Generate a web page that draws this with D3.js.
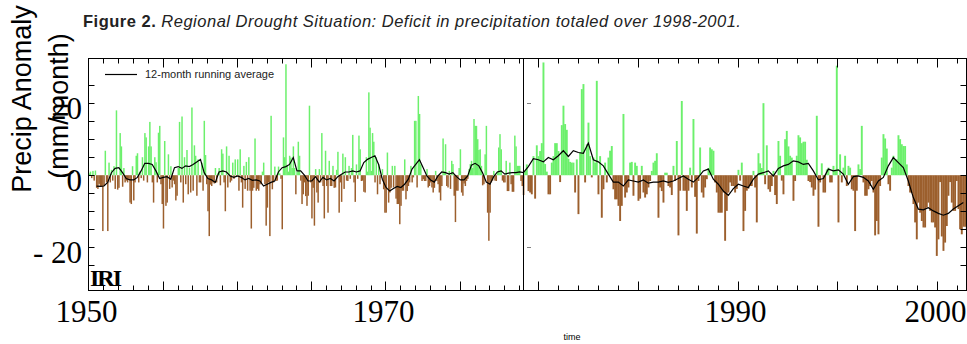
<!DOCTYPE html>
<html>
<head>
<meta charset="utf-8">
<script src="https://cdn.jsdelivr.net/npm/d3@7"></script>
<style>
  html, body { margin: 0; padding: 0; background: #fff; }
  svg { display: block; }
</style>
</head>
<body>
<svg id="chart" width="967" height="344"></svg>
<script>
// monthly precipitation anomaly (mm/month), Jan 1950 onwards
const startYear = 1950;
const anomaly = [
  0.5, 1.0, -0.8, 1.2, -1.5, 1.3, -3.5, -3.8, -2.4, -3.0, -3.2, -15.5,      // 1950
  -3.0, 6.8, -2.0, -15.5, 3.5, -2.0, 1.5, -1.5, 2.5, -3.8, 18.0, -4.0,      // 1951
  -3.5, 11.7, 8.0, -3.2, 2.0, -2.0, -1.5, -2.0, -1.0, -7.6, -8.0, 2.5,      // 1952
  -7.0, -2.0, 5.4, 6.1, -2.0, 1.0, -0.8, 5.0, -1.5, 11.7, 10.5, -2.0,       // 1953
  8.0, 14.8, 8.0, -2.0, -7.6, 5.0, 3.6, -2.0, 11.8, 13.7, -2.5, -8.0,       // 1954
  -14.8, 9.5, -8.5, -7.6, 5.8, -3.8, 2.5, -3.4, -1.5, -2.5, -7.0, -5.7,     // 1955
  2.0, 14.8, -2.0, 16.3, -7.6, 5.0, -2.5, 7.0, -5.3, 2.0, -4.8, 18.8,       // 1956
  -4.3, 8.3, 5.4, -5.7, 4.4, -2.0, -2.0, 3.5, -4.3, 15.1, 5.6, -2.5,        // 1957
  -10.0, -16.9, -2.6, -3.0, -2.0, -2.3, 2.0, -2.0, 0.5, 2.0, -2.8, 7.2,     // 1958
  6.0, -2.0, -10.0, 8.0, -3.4, 5.4, -2.0, -1.5, 3.5, -1.0, 4.4, -0.5,       // 1959
  4.4, -4.3, 7.2, -2.0, -9.0, 2.6, -3.8, 3.7, -4.3, 5.0, -4.3, -14.8,       // 1960
  -4.3, -3.5, 10.2, -4.3, -3.8, -4.3, -2.5, -2.5, 1.0, 3.5, -2.5, -14.0,    // 1961
  -9.0, -2.0, -16.9, 16.5, -3.9, -2.0, 2.4, -1.6, -1.5, 2.4, 0.5, -1.0,     // 1962
  -15.0, 10.5, 5.0, 30.8, 2.6, 1.0, 5.4, 4.9, 2.0, 8.0, 2.0, -5.3,          // 1963
  1.0, 9.3, 5.4, -1.5, -8.0, -5.3, -2.0, -5.8, -8.5, -5.7, 19.3, -2.0,      // 1964
  -12.0, -3.5, -14.0, 1.7, -4.8, -7.6, 1.7, -2.0, 11.7, -3.0, -12.0, 6.8,   // 1965
  -3.0, -10.4, 4.0, -3.0, -3.0, 2.6, -3.5, -3.4, 1.5, 6.5, -10.4, -2.0,     // 1966
  -7.4, 6.0, -3.8, 5.0, -1.5, -1.6, 2.6, -1.0, 2.0, 11.2, -2.0, -7.4,       // 1967
  3.0, -1.0, 11.0, 7.2, -1.6, -1.5, -4.6, -4.8, 5.0, 1.0, 23.0, 13.2,       // 1968
  1.2, 11.7, 9.3, -2.0, 5.0, -5.3, 3.0, -2.5, -0.7, 1.7, -3.9, -10.4,       // 1969
  -10.4, 6.3, -7.6, -4.8, -3.5, 2.6, -3.4, 2.6, -6.5, -8.0, -8.0, -13.6,    // 1970
  -8.5, -4.3, -4.3, 4.4, -6.7, -4.4, -3.0, -2.0, 2.6, -2.0, -0.6, 15.1,     // 1971
  15.1, -3.4, 22.0, 17.0, 3.0, -1.6, -1.1, -1.6, -1.6, 1.7, -3.4, -3.0,     // 1972
  -2.0, -3.4, -4.8, -3.5, 1.2, -1.6, -2.5, -4.8, -7.0, -3.0, 10.2, 1.0,     // 1973
  8.6, -3.0, -3.4, 1.2, -3.8, 4.0, 3.1, -5.7, -13.0, -4.3, -4.3, 2.0,       // 1974
  7.2, -4.8, -5.7, -2.3, -3.0, -1.6, -1.0, 1.7, 3.1, 4.0, 2.0, 15.6,        // 1975
  13.7, 13.7, 10.0, 7.0, 7.2, 2.6, -2.8, -2.5, 5.8, 13.7, -10.4, -18.2,     // 1976
  -10.4, -2.0, -1.5, 1.2, -1.5, -1.6, 1.0, 7.7, 11.4, 7.2, -1.5, -2.0,      // 1977
  -2.0, 4.0, -4.4, -4.4, 3.5, -2.5, -4.6, -4.6, 11.0, 8.0, 2.6, 2.6,        // 1978
  2.6, -1.6, -3.0, -5.5, 1.2, 3.0, -4.4, -4.8, -5.3, 5.3, -6.5, 8.3,        // 1979
  5.3, 6.7, 8.9, 31.3, 3.1, 1.0, -5.3, -5.3, 3.5, 5.3, 8.9, 8.9,            // 1980
  6.7, -1.9, 13.9, 19.3, 14.2, 12.6, 4.6, 3.7, 3.5, 3.5, -4.8, 4.4,         // 1981
  -10.8, 6.3, 23.9, 25.3, -2.0, 8.6, 14.6, 5.3, -0.6, 4.9, 3.5, 26.2,       // 1982
  -5.3, 5.3, -11.8, -3.9, 3.5, -2.0, 4.9, 6.8, 8.1, -3.9, -6.7, -6.7,       // 1983
  -8.5, -12.7, -8.5, 17.0, -6.2, -4.8, -3.4, 3.5, 3.7, -5.7, 3.5, 2.6,      // 1984
  -7.1, -6.5, 2.6, -4.8, -6.2, -5.3, -3.4, -1.6, 1.2, 3.5, 4.0, 6.1,        // 1985
  -11.8, -3.4, -4.4, -7.6, 0.7, 0.7, -3.0, -3.4, -5.5, 2.6, -1.6, 9.5,      // 1986
  -16.7, -4.3, 20.6, -4.3, -4.3, -9.9, -4.3, 2.1, -3.4, 15.6, -6.0, -16.2,  // 1987
  -1.6, 7.7, -4.8, -6.2, -3.4, -1.1, 2.0, 7.7, 7.2, 6.8, -2.0, -4.8,        // 1988
  -10.4, -10.4, -10.4, -4.8, -18.2, -9.9, -4.8, -2.0, -3.0, -3.0, -4.8, -3.8, // 1989
  1.5, -1.5, 3.5, -15.5, -9.9, -4.3, -3.7, -3.0, -3.0, 1.2, -3.4, -13.1,    // 1990
  6.1, 3.3, 2.0, 20.0, -2.5, 8.3, -3.9, -4.6, -3.0, 1.2, -5.5, -8.0,        // 1991
  9.5, 5.4, -1.5, -5.3, 10.0, 12.3, 8.0, 5.4, 4.9, -7.1, -1.6, 5.4,         // 1992
  11.1, 10.5, 8.9, 9.3, 9.3, 4.3, -1.6, -1.9, -3.4, -5.7, -4.0, 16.5,       // 1993
  -14.3, -2.0, 3.3, -4.8, -4.8, 1.6, 2.1, -2.0, -2.0, 2.6, 1.5, 30.4,       // 1994
  -13.1, 5.8, -2.0, 2.1, 5.4, -3.0, 2.6, 2.1, -3.9, -4.3, -15.5, -4.3,      // 1995
  3.0, 1.7, 13.7, -2.0, -5.7, -5.7, -3.9, -3.0, -1.6, -4.8, -16.7, -12.7,   // 1996
  -16.4, -3.0, 4.9, 11.4, 10.2, 7.4, -2.5, -4.3, 2.1, 5.4, 4.4, 4.4,        // 1997
  11.1, 10.0, 8.6, 8.1, 8.1, 3.0, -3.0, -4.8, -5.0, -8.0, -13.1, -17.8,     // 1998
  -7.6, -10.4, -12.7, -14.5, -14.5, -9.0, -7.6, -9.9, -13.1, -13.1, -14.5, -22.4, // 1999
  -17.8, -1.9, -17.0, -21.0, -18.7, -14.1, -5.7, -1.9, -7.6, -9.9, -9.9, -1.6,    // 2000
  -9.4, -15.0, -16.4, -14.3, -14.3, -15.0                                   // 2001
];

// 12-month running average, read every 3 months starting Jul 1950
const avgFirstMonth = 6;
const avgStep = 3;
const runAvg = [
  -3.0, -3.1,
  -3.0, -2.0, 0.7, 1.9,   2.1, 0.7, -0.9, -1.3,   -1.3, -0.6, 1.2, 3.3,   3.3, 3.0, 1.2, -0.9,
  -0.6, -0.4, -1.1, 2.1,  2.4, 1.9, 2.6, 2.4,     3.0, 3.7, 4.4, 0.7,     -0.9, -1.3, -2.0, 0.9,
  1.2, 0.9, -0.2, -0.6,   -0.2, -0.6, -1.3, -0.9, -1.4, -1.3, -1.6, -3.0, -2.5, -2.0, -1.6, 0.9,
  2.1, 2.4, 3.0, 4.9,     1.2, 1.2, 0.0, -1.6,    -1.6, -0.4, -1.9, -0.6, -1.3, -0.9, -1.6, -0.4,
  0.3, 0.9, 0.9, 1.2,     0.9, 1.2, 3.5, 4.4,     4.9, 5.4, 3.0, -1.1,    -3.4, -4.4, -3.7, -3.1,
  -3.4, -2.5, -1.1, 1.7,  3.0, 4.3, 2.1, -0.2,    -1.3, -1.9, -0.2, 0.9,  0.7, 0.3, 0.7, -0.4,
  -1.3, -1.3, -0.2, 2.8,  3.3, 2.6, 0.7, -1.9,    -2.5, -0.4, 0.9, 1.2,   0.3, 0.6, 0.7, 0.7,
  0.9, 0.7, 2.4, 4.6,     4.3, 3.7, 4.9, 4.3,     5.4, 6.8, 5.2, 6.8,     6.3, 6.1, 8.9, 4.3,
  3.7, 2.6, 0.3, -1.9,    -1.9, -3.0, -1.3, -1.6, -1.9, -1.3, -2.2, -1.9, -1.9, -1.6, -2.0, -1.6,
  -0.9, -0.2, -1.1, -1.9, -0.6, 1.2, 1.7, -1.1,   -2.5, -4.4, -5.6, -3.7, -2.5, -3.0, -3.4, -1.1,
  0.3, 0.7, 1.2, -0.2,    1.9, 2.6, 3.0, 4.0,     3.7, 3.0, 3.3, 1.2,     -1.3, -0.9, 1.7, 1.2,
  1.5, 0.3, -2.5, -0.4,   -0.2, -0.6, -1.6, -3.9, -1.6, -0.6, 2.6, 4.9,   3.5, 2.1, -1.6, -6.2,
  -9.4, -9.6, -9.0, -9.9, -10.6, -11.1, -10.6, -9.4,
  -8.5, -7.6
];

const timeBreaks = [1950, 1979.3, 2001.45];
const xLabelYears = [1950, 1970, 1990, 2000];
const yLabelValues = [20, 0, -20];
const yTickValues = [-25, -20, -15, -10, -5, 0, 5, 10, 15, 20, 25];

const svg = d3.select("#chart");
const plotL = 88.5, plotR = 966.5, plotT = 58.5, plotB = 290.5, plotSplit = 523.5;

const x = d3.scaleLinear().domain(timeBreaks).range([plotL, plotSplit, plotR]);
const y = d3.scaleLinear().domain([-32, 32.4]).range([plotB, plotT]);

svg.append("defs").append("clipPath").attr("id", "plot")
  .append("rect")
  .attr("x", plotL).attr("y", plotT)
  .attr("width", plotR - plotL).attr("height", plotB - plotT);

const months = anomaly.map((v, i) => ({ t: startYear + i / 12, v }));

svg.append("g")
  .attr("clip-path", "url(#plot)")
  .selectAll("rect")
  .data(months)
  .join("rect")
  .attr("x", d => x(d.t))
  .attr("width", d => x(d.t + 1 / 12) - x(d.t) + 0.25)
  .attr("y", d => d.v >= 0 ? y(d.v) : y(0))
  .attr("height", d => Math.abs(y(d.v) - y(0)))
  .attr("fill", d => d.v >= 0 ? "#6cf06c" : "#9c5f2d");

const avgPoints = runAvg.map((v, k) => ({
  t: startYear + (avgFirstMonth + k * avgStep + 0.5) / 12, v
}));

svg.append("path")
  .datum(avgPoints)
  .attr("clip-path", "url(#plot)")
  .attr("fill", "none")
  .attr("stroke", "#000")
  .attr("stroke-width", 1.2)
  .attr("d", d3.line().x(d => x(d.t)).y(d => y(d.v)));

// frame and panel divider
svg.append("rect")
  .attr("x", plotL).attr("y", plotT)
  .attr("width", plotR - plotL).attr("height", plotB - plotT)
  .attr("fill", "none").attr("stroke", "#000").attr("stroke-width", 1);

svg.append("line")
  .attr("x1", plotSplit).attr("x2", plotSplit)
  .attr("y1", plotT).attr("y2", plotB)
  .attr("stroke", "#000").attr("stroke-width", 1);

// year ticks along top and bottom
const years = d3.range(1951, 2002);
const tickLen = yr => yr % 5 === 0 ? 9 : 5;
const ticks = svg.append("g").attr("stroke", "#000").attr("stroke-width", 1);
ticks.selectAll("line.top")
  .data(years).join("line").attr("class", "top")
  .attr("x1", d => Math.round(x(d)) + 0.5).attr("x2", d => Math.round(x(d)) + 0.5)
  .attr("y1", plotT).attr("y2", d => plotT + tickLen(d));
ticks.selectAll("line.bot")
  .data(years).join("line").attr("class", "bot")
  .attr("x1", d => Math.round(x(d)) + 0.5).attr("x2", d => Math.round(x(d)) + 0.5)
  .attr("y1", plotB).attr("y2", d => plotB - tickLen(d));

// value ticks on the left and right edges
ticks.selectAll("line.yl")
  .data(yTickValues).join("line").attr("class", "yl")
  .attr("x1", plotL).attr("x2", plotL + 6)
  .attr("y1", d => Math.round(y(d)) + 0.5).attr("y2", d => Math.round(y(d)) + 0.5);
ticks.selectAll("line.yr")
  .data(yTickValues).join("line").attr("class", "yr")
  .attr("x1", plotR).attr("x2", plotR - 6)
  .attr("y1", d => Math.round(y(d)) + 0.5).attr("y2", d => Math.round(y(d)) + 0.5);
ticks.selectAll("line.ym")
  .data(yLabelValues.filter(d => d !== 0)).join("line").attr("class", "ym")
  .attr("x1", plotSplit + 4).attr("x2", plotSplit + 7)
  .attr("stroke-dasharray", "1,1")
  .attr("y1", d => Math.round(y(d)) + 0.5).attr("y2", d => Math.round(y(d)) + 0.5);

// tick labels
const serif = "'Liberation Serif', 'Times New Roman', serif";
svg.append("g")
  .selectAll("text")
  .data(xLabelYears).join("text")
  .attr("x", d => x(d) - 2)
  .attr("y", 322)
  .attr("text-anchor", "middle")
  .attr("font-family", serif)
  .attr("font-size", 31)
  .text(d => d);

svg.append("g")
  .selectAll("text")
  .data(yLabelValues).join("text")
  .attr("x", 82)
  .attr("y", d => y(d) + 16)
  .attr("text-anchor", "end")
  .attr("font-family", serif)
  .attr("font-size", 31)
  .text(d => d < 0 ? "- " + Math.abs(d) : d);

// axis titles
const sans = "'Liberation Sans', Arial, sans-serif";
svg.append("text")
  .attr("transform", "translate(31,99) rotate(-90)")
  .attr("text-anchor", "middle")
  .attr("font-family", sans).attr("font-size", 27)
  .text("Precip Anomaly");
svg.append("text")
  .attr("transform", "translate(68,106) rotate(-90)")
  .attr("text-anchor", "middle")
  .attr("font-family", sans).attr("font-size", 27)
  .text("(mm/month)");

svg.append("text")
  .attr("x", 572).attr("y", 340)
  .attr("text-anchor", "middle")
  .attr("font-family", sans).attr("font-size", 9)
  .text("time");

// title
const title = svg.append("text")
  .attr("x", 83).attr("y", 27)
  .attr("font-family", sans).attr("font-size", 16.5)
  .attr("letter-spacing", 0.5)
  .attr("fill", "#222");
title.append("tspan").attr("font-weight", "bold").text("Figure 2.");
title.append("tspan").attr("font-style", "italic")
  .text(" Regional Drought Situation: Deficit in precipitation totaled over 1998-2001.");

// legend
svg.append("line")
  .attr("x1", 105).attr("x2", 137)
  .attr("y1", 74.5).attr("y2", 74.5)
  .attr("stroke", "#000").attr("stroke-width", 1.2);
svg.append("text")
  .attr("x", 145).attr("y", 78)
  .attr("font-family", sans).attr("font-size", 11)
  .attr("fill", "#222")
  .text("12-month running average");

// IRI mark
svg.append("text")
  .attr("x", 90).attr("y", 286)
  .attr("font-family", serif).attr("font-size", 24)
  .attr("font-weight", "bold").attr("letter-spacing", -2)
  .text("IRI");
</script>
</body>
</html>
